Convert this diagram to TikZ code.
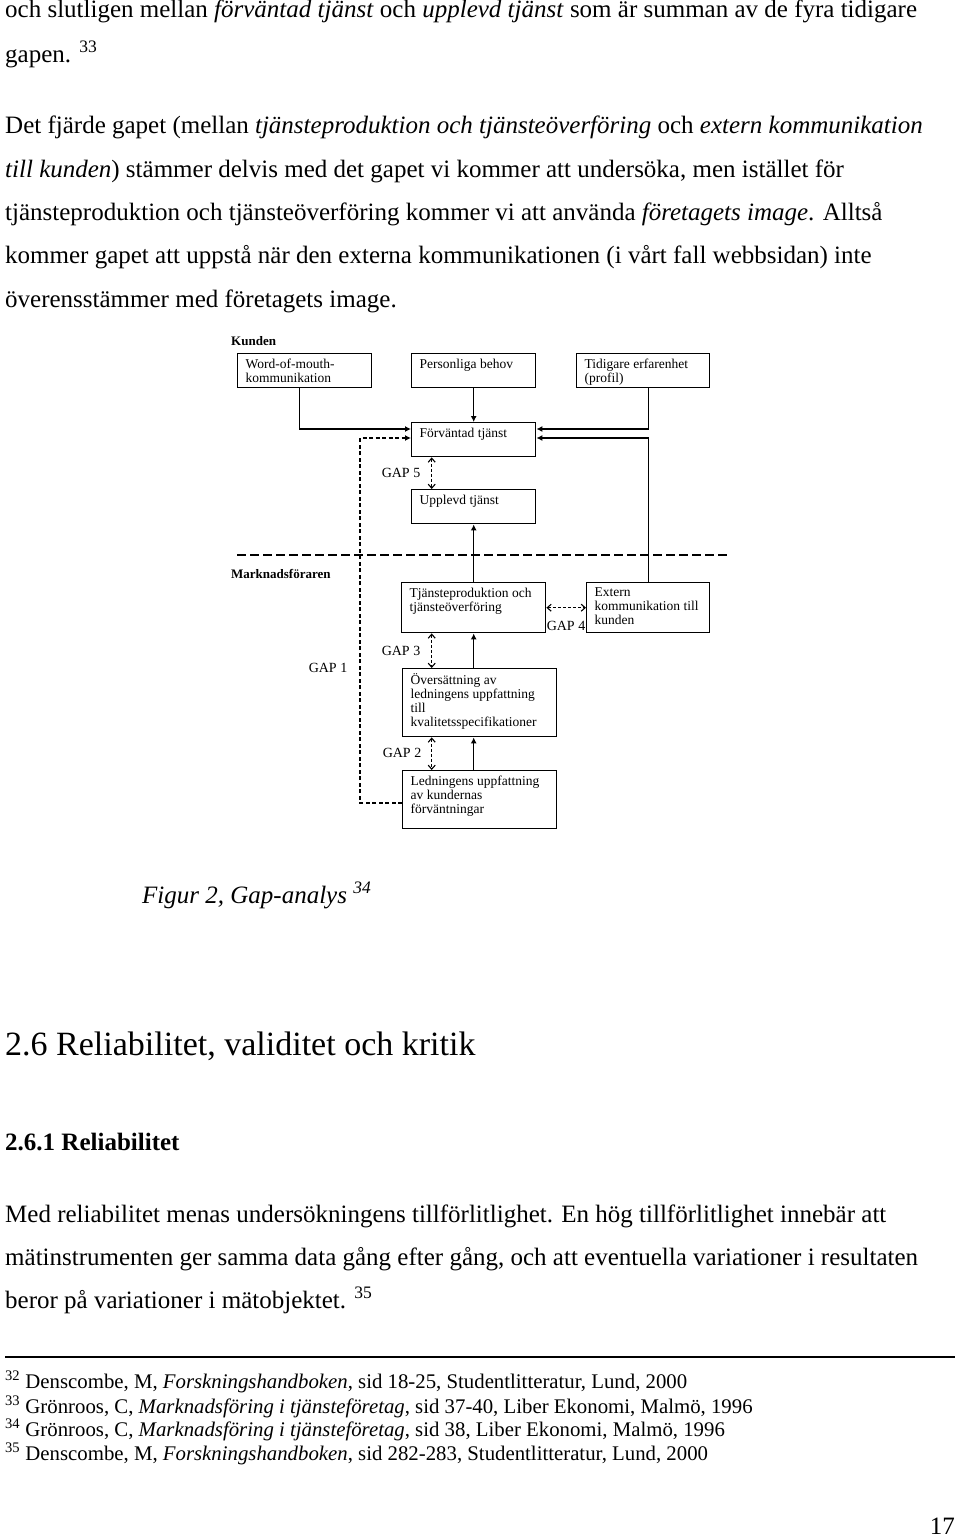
\documentclass[tikz,border=0pt]{standalone}
\usepackage{fontspec}
\setmainfont{Liberation Serif}
\usetikzlibrary{arrows.meta,calc}
\tikzstyle{bx}=[draw=black,line width=1.4pt,anchor=north west,inner xsep=8pt,
  inner ysep=5pt,font=\fontsize{13.5}{14}\selectfont]
\tikzstyle{gp}=[inner sep=0pt,font=\fontsize{14}{15}\selectfont]
\tikzstyle{hd}=[anchor=west,inner sep=0pt,font=\fontsize{13}{14}\selectfont\bfseries]
\tikzstyle{txt}=[anchor=base west,inner sep=0pt,font=\fontsize{25}{30}\selectfont]
\tikzstyle{fn}=[anchor=base west,inner sep=0pt,font=\fontsize{20.8}{24}\selectfont]
\tikzstyle{arr}=[line width=1.2pt,-{Latex[length=6pt,width=6pt]}]
\tikzstyle{gap}=[line width=1.1pt,dash pattern=on 3pt off 2pt,
  {Straight Barb[length=4pt,width=7pt]}-{Straight Barb[length=4pt,width=7pt]}]
\tikzstyle{gline}=[line width=1.2pt,dash pattern=on 4pt off 2.5pt,-{Latex[length=6pt,width=6pt]}]
\tikzstyle{divl}=[line width=1.2pt,dash pattern=on 9pt off 4pt]

\begin{document}
\begin{tikzpicture}[x=1pt,y=-1pt]
    \fill[white] (0,0) rectangle (960,1537);
    \useasboundingbox (0,0) rectangle (960,1537);
    % text above the figure
    \node [style=txt] (l1) at (5,17) {och slutligen mellan \textit{förväntad tjänst} och \textit{upplevd tjänst} som är summan av de fyra tidigare};
    \node [style=txt] (l2) at (5,62) {gapen. \textsuperscript{33}};
    \node [style=txt] (l3) at (5,133) {Det fjärde gapet (mellan \textit{tjänsteproduktion och tjänsteöverföring} och \textit{extern kommunikation}};
    \node [style=txt] (l4) at (5,177) {\textit{till kunden}) stämmer delvis med det gapet vi kommer att undersöka, men istället för};
    \node [style=txt] (l5) at (5,220) {tjänsteproduktion och tjänsteöverföring kommer vi att använda \textit{företagets image}. Alltså};
    \node [style=txt] (l6) at (5,263) {kommer gapet att uppstå när den externa kommunikationen (i vårt fall webbsidan) inte};
    \node [style=txt] (l7) at (5,307) {överensstämmer med företagets image.};
    % the figure
    \node [style=hd] (kund) at (231,341) {Kunden};
    \node [style=bx] (wom) at (237,353) {\parbox[t][24pt][t]{118pt}{Word-of-mouth-\\kommunikation}};
    \node [style=bx] (pb) at (411,353) {\parbox[t][24pt][t]{108pt}{Personliga behov}};
    \node [style=bx] (tid) at (576,353) {\parbox[t][24pt][t]{117pt}{Tidigare erfarenhet\\(profil)}};
    \node [style=bx] (fv) at (411,422) {\parbox[t][24pt][t]{108pt}{Förväntad tjänst}};
    \node [style=bx] (up) at (411,489) {\parbox[t][24pt][t]{108pt}{Upplevd tjänst}};
    \node [style=gp] (g5) at (401,473) {GAP 5};
    \draw [style=divl] (237,555) coordinate (d0) -- (730,555) coordinate (d1);
    \node [style=hd] (mf) at (231,574) {Marknadsföraren};
    \node [style=bx] (tp) at (401,582) {\parbox[t][40pt][t]{128pt}{Tjänsteproduktion och\\tjänsteöverföring}};
    \node [style=bx] (ext) at (586,582) {\parbox[t][40pt][t]{107pt}{Extern\\kommunikation till\\kunden}};
    \node [style=gp] (g4) at (566,626) {GAP 4};
    \node [style=gp] (g3) at (401,651) {GAP 3};
    \node [style=gp] (g1) at (328,668) {GAP 1};
    \node [style=bx] (ov) at (402,668) {\parbox[t][58pt][t]{138pt}{Översättning av\\ledningens uppfattning\\till\\kvalitetsspecifikationer}};
    \node [style=gp] (g2) at (402,753) {GAP 2};
    \node [style=bx] (led) at (402,770) {\parbox[t][48pt][t]{138pt}{Ledningens uppfattning\\av kundernas\\förväntningar}};
    \coordinate (c1) at (360,803);
    \draw [style=arr] ([xshift=-5pt]wom.south) |- ([yshift=-7pt]fv.north west);
    \draw [style=arr] (pb) to (fv);
    \draw [style=arr] ([xshift=5.5pt]tid.south) |- ([yshift=-7pt]fv.north east);
    \draw [style=arr] (ext.north) |- ([yshift=-16pt]fv.north east);
    \draw [style=gline] ([yshift=-33pt]led.north west) -- (c1) |- ([yshift=-16pt]fv.north west);
    \draw [style=gap] ([xshift=-42pt]fv.south) to ([xshift=-42pt]up.north);
    \draw [style=arr] (tp) to (up);
    \draw [style=gap] (tp) to (ext);
    \draw [style=gap] ([xshift=-42pt]tp.south) to ([xshift=-42pt]tp.south |- ov.north);
    \draw [style=arr] (ov.north -| tp.south) to (tp.south);
    \draw [style=gap] ([xshift=-42pt]tp.south |- ov.south) to ([xshift=-42pt]tp.south |- led.north);
    \draw [style=arr] (led.north -| tp.south) to (ov.south -| tp.south);
    \node [style=txt] (cap) at (142,903) {\textit{Figur 2, Gap-analys} \textsuperscript{\textit{34}}};
    % section text
    \node [style=txt,font=\fontsize{34}{40}\selectfont] (h1) at (5,1055) {2.6 Reliabilitet, validitet och kritik};
    \node [style=txt,font=\fontsize{25}{30}\selectfont\bfseries] (h2) at (5,1150) {2.6.1 Reliabilitet};
    \node [style=txt] (m1) at (5,1222) {Med reliabilitet menas undersökningens tillförlitlighet. En hög tillförlitlighet innebär att};
    \node [style=txt] (m2) at (5,1265) {mätinstrumenten ger samma data gång efter gång, och att eventuella variationer i resultaten};
    \node [style=txt] (m3) at (5,1308) {beror på variationer i mätobjektet. \textsuperscript{35}};
    \draw [line width=1.5pt] (5,1357) coordinate (r0) -- (955,1357) coordinate (r1);
    \node [style=fn] (f32) at (5,1388) {\textsuperscript{32} Denscombe, M, \textit{Forskningshandboken}, sid 18-25, Studentlitteratur, Lund, 2000};
    \node [style=fn] (f33) at (5,1413) {\textsuperscript{33} Grönroos, C, \textit{Marknadsföring i tjänsteföretag}, sid 37-40, Liber Ekonomi, Malmö, 1996};
    \node [style=fn] (f34) at (5,1436) {\textsuperscript{34} Grönroos, C, \textit{Marknadsföring i tjänsteföretag}, sid 38, Liber Ekonomi, Malmö, 1996};
    \node [style=fn] (f35) at (5,1460) {\textsuperscript{35} Denscombe, M, \textit{Forskningshandboken}, sid 282-283, Studentlitteratur, Lund, 2000};
    \node [style=txt,anchor=base east] (pg) at (955,1534) {17};
\end{tikzpicture}
\end{document}
